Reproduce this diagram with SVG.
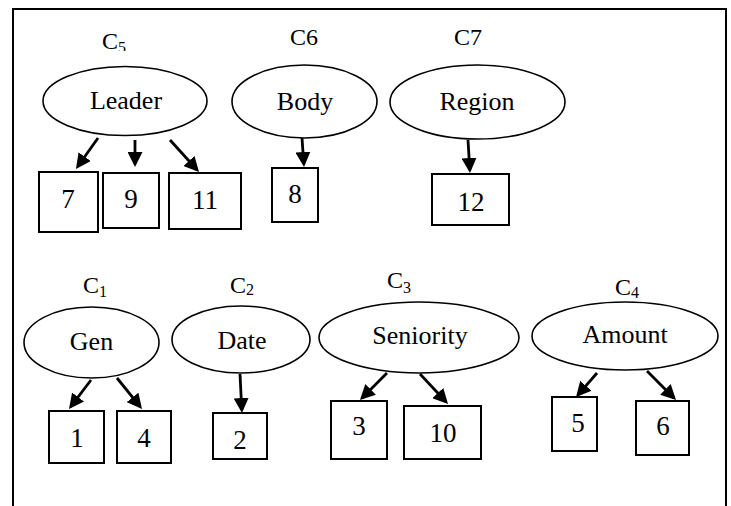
<svg xmlns="http://www.w3.org/2000/svg" width="731" height="506" viewBox="0 0 731 506">
  <defs>
    <marker id="arrow" markerUnits="userSpaceOnUse" markerWidth="15" markerHeight="15" refX="12" refY="7.5" orient="auto">
      <path d="M0,0 L15,7.5 L0,15 z" fill="#000"/>
    </marker>
    <clipPath id="clipC5">
      <rect x="90" y="20" width="50" height="31"/>
    </clipPath>
  </defs>
  <style>
    .lbl { font-size: 26px; text-anchor: middle; }
    .num { font-size: 27px; text-anchor: middle; }
    .cls { font-size: 24px; }
    .sub { font-size: 16px; }
    ellipse { fill: #fff; stroke: #000; stroke-width: 1.6; }
    rect.box { fill: #fff; stroke: #000; stroke-width: 2; }
    .edges line { stroke: #000; stroke-width: 2.8; marker-end: url(#arrow); }
  </style>

  <rect x="0" y="0" width="731" height="506" fill="#fff"/>
  <!-- outer frame (open at the bottom) -->
  <path d="M13,520 L13,9 L726,9 L726,520" fill="none" stroke="#000" stroke-width="2"/>

  <g font-family="'Liberation Serif', 'DejaVu Serif', 'Times New Roman', serif" fill="#000">
  <!-- upper row -->
  <g id="leader">
    <text class="cls" x="102" y="49" clip-path="url(#clipC5)">C<tspan class="sub" dy="4">5</tspan></text>
    <ellipse cx="125" cy="101" rx="82" ry="34.5"/>
    <text class="lbl" x="126" y="109">Leader</text>
  </g>
  <g id="body">
    <text class="cls" x="290" y="45">C6</text>
    <ellipse cx="304.5" cy="101.5" rx="72.5" ry="36.5"/>
    <text class="lbl" x="305" y="110">Body</text>
  </g>
  <g id="region">
    <text class="cls" x="454" y="45">C7</text>
    <ellipse cx="477.5" cy="102" rx="87.5" ry="37"/>
    <text class="lbl" x="477" y="110">Region</text>
  </g>
  <g id="n7"><rect class="box" x="39" y="172" width="59" height="60"/><text class="num" x="68" y="208">7</text></g>
  <g id="n9"><rect class="box" x="103" y="173" width="56" height="55"/><text class="num" x="131" y="208">9</text></g>
  <g id="n11"><rect class="box" x="169" y="173" width="72" height="56"/><text class="num" x="205" y="209">11</text></g>
  <g id="n8"><rect class="box" x="272" y="168" width="46" height="54"/><text class="num" x="295" y="203">8</text></g>
  <g id="n12"><rect class="box" x="432" y="174" width="77" height="51"/><text class="num" x="471" y="211">12</text></g>

  <!-- lower row -->
  <g id="gen">
    <text class="cls" x="83" y="293">C<tspan class="sub" dy="4">1</tspan></text>
    <ellipse cx="91.5" cy="342.5" rx="67.5" ry="35.5"/>
    <text class="lbl" x="91.5" y="350">Gen</text>
  </g>
  <g id="date">
    <text class="cls" x="230" y="293">C<tspan class="sub" dy="2">2</tspan></text>
    <ellipse cx="241" cy="339.5" rx="69" ry="33.5"/>
    <text class="lbl" x="242" y="349">Date</text>
  </g>
  <g id="seniority">
    <text class="cls" x="387" y="288">C<tspan class="sub" dy="5">3</tspan></text>
    <ellipse cx="419" cy="337.5" rx="100" ry="35.5"/>
    <text class="lbl" x="420" y="344">Seniority</text>
  </g>
  <g id="amount">
    <text class="cls" x="615" y="295">C<tspan class="sub" dy="3">4</tspan></text>
    <ellipse cx="625" cy="336" rx="93" ry="34"/>
    <text class="lbl" x="625" y="343">Amount</text>
  </g>
  <g id="n1"><rect class="box" x="49" y="411" width="55" height="52"/><text class="num" x="77" y="447">1</text></g>
  <g id="n4"><rect class="box" x="117" y="411" width="54" height="52"/><text class="num" x="144" y="447">4</text></g>
  <g id="n2"><rect class="box" x="213" y="413" width="54" height="46"/><text class="num" x="240" y="449">2</text></g>
  <g id="n3"><rect class="box" x="331" y="401" width="56" height="58"/><text class="num" x="359" y="435">3</text></g>
  <g id="n10"><rect class="box" x="404" y="406" width="77" height="53"/><text class="num" x="443" y="442">10</text></g>
  <g id="n5"><rect class="box" x="552" y="397" width="45" height="54"/><text class="num" x="578" y="432">5</text></g>
  <g id="n6"><rect class="box" x="636" y="401" width="53" height="54"/><text class="num" x="663" y="435">6</text></g>
  </g>

  <g class="edges">
    <line x1="98" y1="138" x2="77.7" y2="166.5"/>
    <line x1="135" y1="140" x2="135" y2="164"/>
    <line x1="170" y1="140" x2="197" y2="169.8"/>
    <line x1="302" y1="138" x2="303.8" y2="164"/>
    <line x1="468" y1="140" x2="469.8" y2="170"/>
    <line x1="91" y1="380" x2="70.8" y2="406.6"/>
    <line x1="117" y1="378" x2="140.1" y2="406.7"/>
    <line x1="240" y1="374" x2="241.8" y2="410"/>
    <line x1="387" y1="373" x2="362.1" y2="397.9"/>
    <line x1="420" y1="374" x2="446" y2="401.8"/>
    <line x1="597" y1="373" x2="578" y2="394.8"/>
    <line x1="647" y1="371" x2="673.9" y2="397.9"/>
  </g>
</svg>
